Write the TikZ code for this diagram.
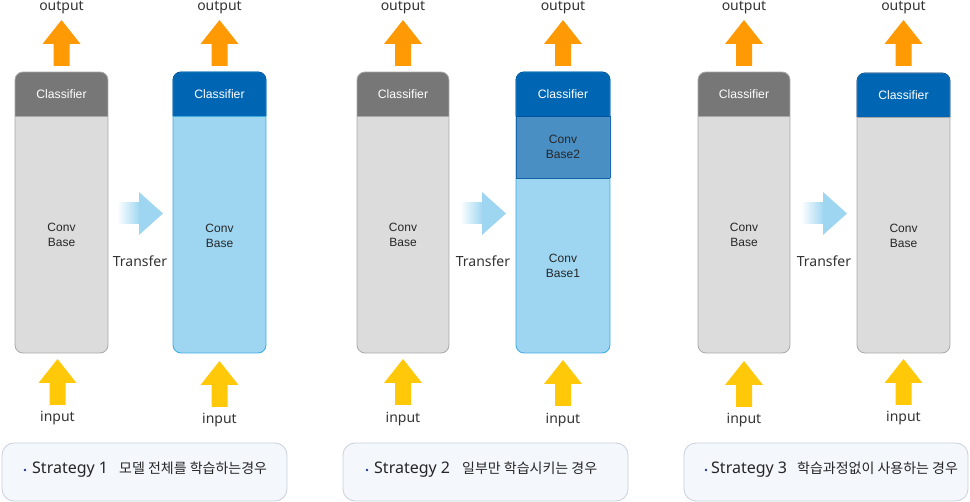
\documentclass[tikz,border=0pt]{standalone}
\usepackage{fontspec}
\setmainfont{Noto Sans}
\newfontfamily\kr{Noto Sans CJK KR}
\newfontfamily\arl{Liberation Sans}
\definecolor{clsgrey}{HTML}{777777}
\definecolor{bodygrey}{HTML}{DCDCDC}
\definecolor{greyline}{HTML}{A8A8A8}
\definecolor{clsblue}{HTML}{0066B3}
\definecolor{clsblueline}{HTML}{00559F}
\definecolor{bodyblue}{HTML}{9ED6F2}
\definecolor{blueline}{HTML}{3BA9DE}
\definecolor{basetwo}{HTML}{4A8FC3}
\definecolor{outorange}{HTML}{FF9A05}
\definecolor{inyellow}{HTML}{FFC90A}
\definecolor{trblue}{HTML}{9ED6F2}
\definecolor{capfill}{HTML}{F4F7FC}
\definecolor{capline}{HTML}{C9D0DC}
\definecolor{navy}{HTML}{1F3A7A}
\definecolor{txt}{HTML}{333333}
\newcommand\modelbox[6]{% xl, xr, ytop, clsfill, bodyfill, border
  \begin{scope}
    \clip[rounded corners=8pt] (#1,#3) rectangle (#2,353);
    \fill[#5] (#1,#3) rectangle (#2,353);
    \fill[#4] (#1,#3) rectangle (#2,#3+44);
  \end{scope}
  \draw[#6, line width=0.8pt, rounded corners=8pt] (#1,#3) rectangle (#2,353);
}
\newcommand\bigup[4]{% cx, ytip, ybottom, color
  \fill[#4] (#1,#2) -- (#1+19,#2+24) -- (#1+8,#2+24) -- (#1+8,#3) -- (#1-8,#3) -- (#1-8,#2+24) -- (#1-19,#2+24) -- cycle;
}
\newcommand\transarrow[1]{% x start
  \shade[left color=white, right color=trblue] (#1,203) rectangle (#1+23,224);
  \fill[trblue] (#1+22,192) -- (#1+46,213.5) -- (#1+22,235) -- cycle;
}
\tikzset{
  lbl/.style={font=\fontsize{14}{16}\selectfont, text=txt, inner sep=0pt},
  clstxt/.style={font=\arl\fontsize{12.2}{13}\selectfont, text=white, align=center},
  basetxt/.style={font=\arl\fontsize{12}{14.5}\selectfont, text=black!85, align=center},
  capbox/.style={draw=capline, fill=capfill, line width=0.8pt, rounded corners=12pt},
  captxt/.style={anchor=west, inner sep=0pt, text=black!85},
  bul/.style={circle, fill=navy, inner sep=0pt, minimum size=2.6pt},
}
\begin{document}
\begin{tikzpicture}[x=1pt,y=-1pt]
\useasboundingbox (0,0) rectangle (970,502);
\fill[white] (0,0) rectangle (970,502);

% ---------- Panel 1 ----------
\modelbox{15}{108}{72}{clsgrey}{bodygrey}{greyline}
\draw[greyline, line width=0.8pt] (15,116) -- (108,116);
\modelbox{173}{266}{72}{clsblue}{bodyblue}{blueline}
\draw[clsblueline, line width=0.8pt, rounded corners=8pt] (173,116) -- (173,72) -- (266,72) -- (266,116);
\draw[blueline, line width=0.8pt] (173,116) -- (266,116);
\node[clstxt] (c1a) at (61.5,94) {Classifier};
\node[basetxt] (b1a) at (61.5,235) {Conv\\Base};
\node[clstxt] (c1b) at (219.5,94) {Classifier};
\node[basetxt] (b1b) at (219.5,236) {Conv\\Base};
\bigup{61.5}{20}{66}{outorange}
\bigup{219.5}{20}{66}{outorange}
\bigup{57.5}{359}{405}{inyellow}
\bigup{219.5}{361}{407}{inyellow}
\node[lbl] (o1a) at (61.5,8) {output};
\node[lbl] (o1b) at (219.5,8) {output};
\node[lbl] (i1a) at (57.5,418) {input};
\node[lbl] (i1b) at (219.5,420) {input};
\transarrow{117}
\node[lbl] (t1) at (140,261) {Transfer};

% ---------- Panel 2 ----------
\modelbox{357}{449}{72}{clsgrey}{bodygrey}{greyline}
\draw[greyline, line width=0.8pt] (357,116) -- (449,116);
\begin{scope}
  \clip[rounded corners=8pt] (516,72) rectangle (610,353);
  \fill[bodyblue] (516,72) rectangle (610,353);
  \fill[basetwo] (516,116) rectangle (610,178);
  \fill[clsblue] (516,72) rectangle (610,116);
\end{scope}
\draw[blueline, line width=0.8pt, rounded corners=8pt] (516,72) rectangle (610,353);
\draw[clsblueline, line width=0.8pt, rounded corners=8pt] (516,116) -- (516,72) -- (610,72) -- (610,116);
\draw[clsblueline!70!basetwo, line width=0.8pt] (516,116) -- (516,178) (610,116) -- (610,178);
\draw[clsblueline, line width=0.8pt] (516,116) -- (610,116);
\draw[clsblueline!80!basetwo, line width=0.8pt] (516,178) -- (610,178);
\node[clstxt] (c2a) at (403,94) {Classifier};
\node[basetxt] (b2a) at (403,235) {Conv\\Base};
\node[clstxt] (c2b) at (563,94) {Classifier};
\node[basetxt] (b2c) at (563,147) {Conv\\Base2};
\node[basetxt] (b2b) at (563,266) {Conv\\Base1};
\bigup{403}{20}{66}{outorange}
\bigup{563}{20}{66}{outorange}
\bigup{403}{359}{405}{inyellow}
\bigup{563}{360}{406}{inyellow}
\node[lbl] (o2a) at (403,8) {output};
\node[lbl] (o2b) at (563,8) {output};
\node[lbl] (i2a) at (403,419) {input};
\node[lbl] (i2b) at (563,420) {input};
\transarrow{460}
\node[lbl] (t2) at (483,261) {Transfer};

% ---------- Panel 3 ----------
\modelbox{698}{790}{72}{clsgrey}{bodygrey}{greyline}
\draw[greyline, line width=0.8pt] (698,116) -- (790,116);
\modelbox{857}{950}{73}{clsblue}{bodygrey}{greyline}
\draw[clsblueline, line width=0.8pt, rounded corners=8pt] (857,117) -- (857,73) -- (950,73) -- (950,117);
\draw[greyline, line width=0.8pt] (857,117) -- (950,117);
\node[clstxt] (c3a) at (744,94) {Classifier};
\node[basetxt] (b3a) at (744,235) {Conv\\Base};
\node[clstxt] (c3b) at (903.5,95) {Classifier};
\node[basetxt] (b3b) at (903.5,236) {Conv\\Base};
\bigup{744}{20}{66}{outorange}
\bigup{903.5}{20}{66}{outorange}
\bigup{744}{361}{407}{inyellow}
\bigup{903.5}{359}{405}{inyellow}
\node[lbl] (o3a) at (744,8) {output};
\node[lbl] (o3b) at (903.5,8) {output};
\node[lbl] (i3a) at (744,420) {input};
\node[lbl] (i3b) at (903.5,418) {input};
\transarrow{801}
\node[lbl] (t3) at (824,261) {Transfer};

% ---------- Captions ----------
\draw[capbox] (2,443) rectangle (287,501);
\draw[capbox] (343,443) rectangle (628,501);
\draw[capbox] (684,443) rectangle (968,501);
\node[bul] (d1) at (25,470) {};
\node[bul] (d2) at (367,470) {};
\node[bul] (d3) at (706,470) {};
\node[captxt] (s1) at (32,470) {\fontsize{16}{18}\selectfont Strategy 1\hspace{11pt}{\kr\fontsize{14}{16}\selectfont 모델 전체를 학습하는경우}};
\node[captxt] (s2) at (374,470) {\fontsize{16}{18}\selectfont Strategy 2\hspace{12pt}{\kr\fontsize{14}{16}\selectfont 일부만 학습시키는 경우}};
\node[captxt] (s3) at (711,470) {\fontsize{16}{18}\selectfont Strategy 3\hspace{10pt}{\kr\fontsize{14}{16}\selectfont 학습과정없이 사용하는 경우}};
\end{tikzpicture}
\end{document}
